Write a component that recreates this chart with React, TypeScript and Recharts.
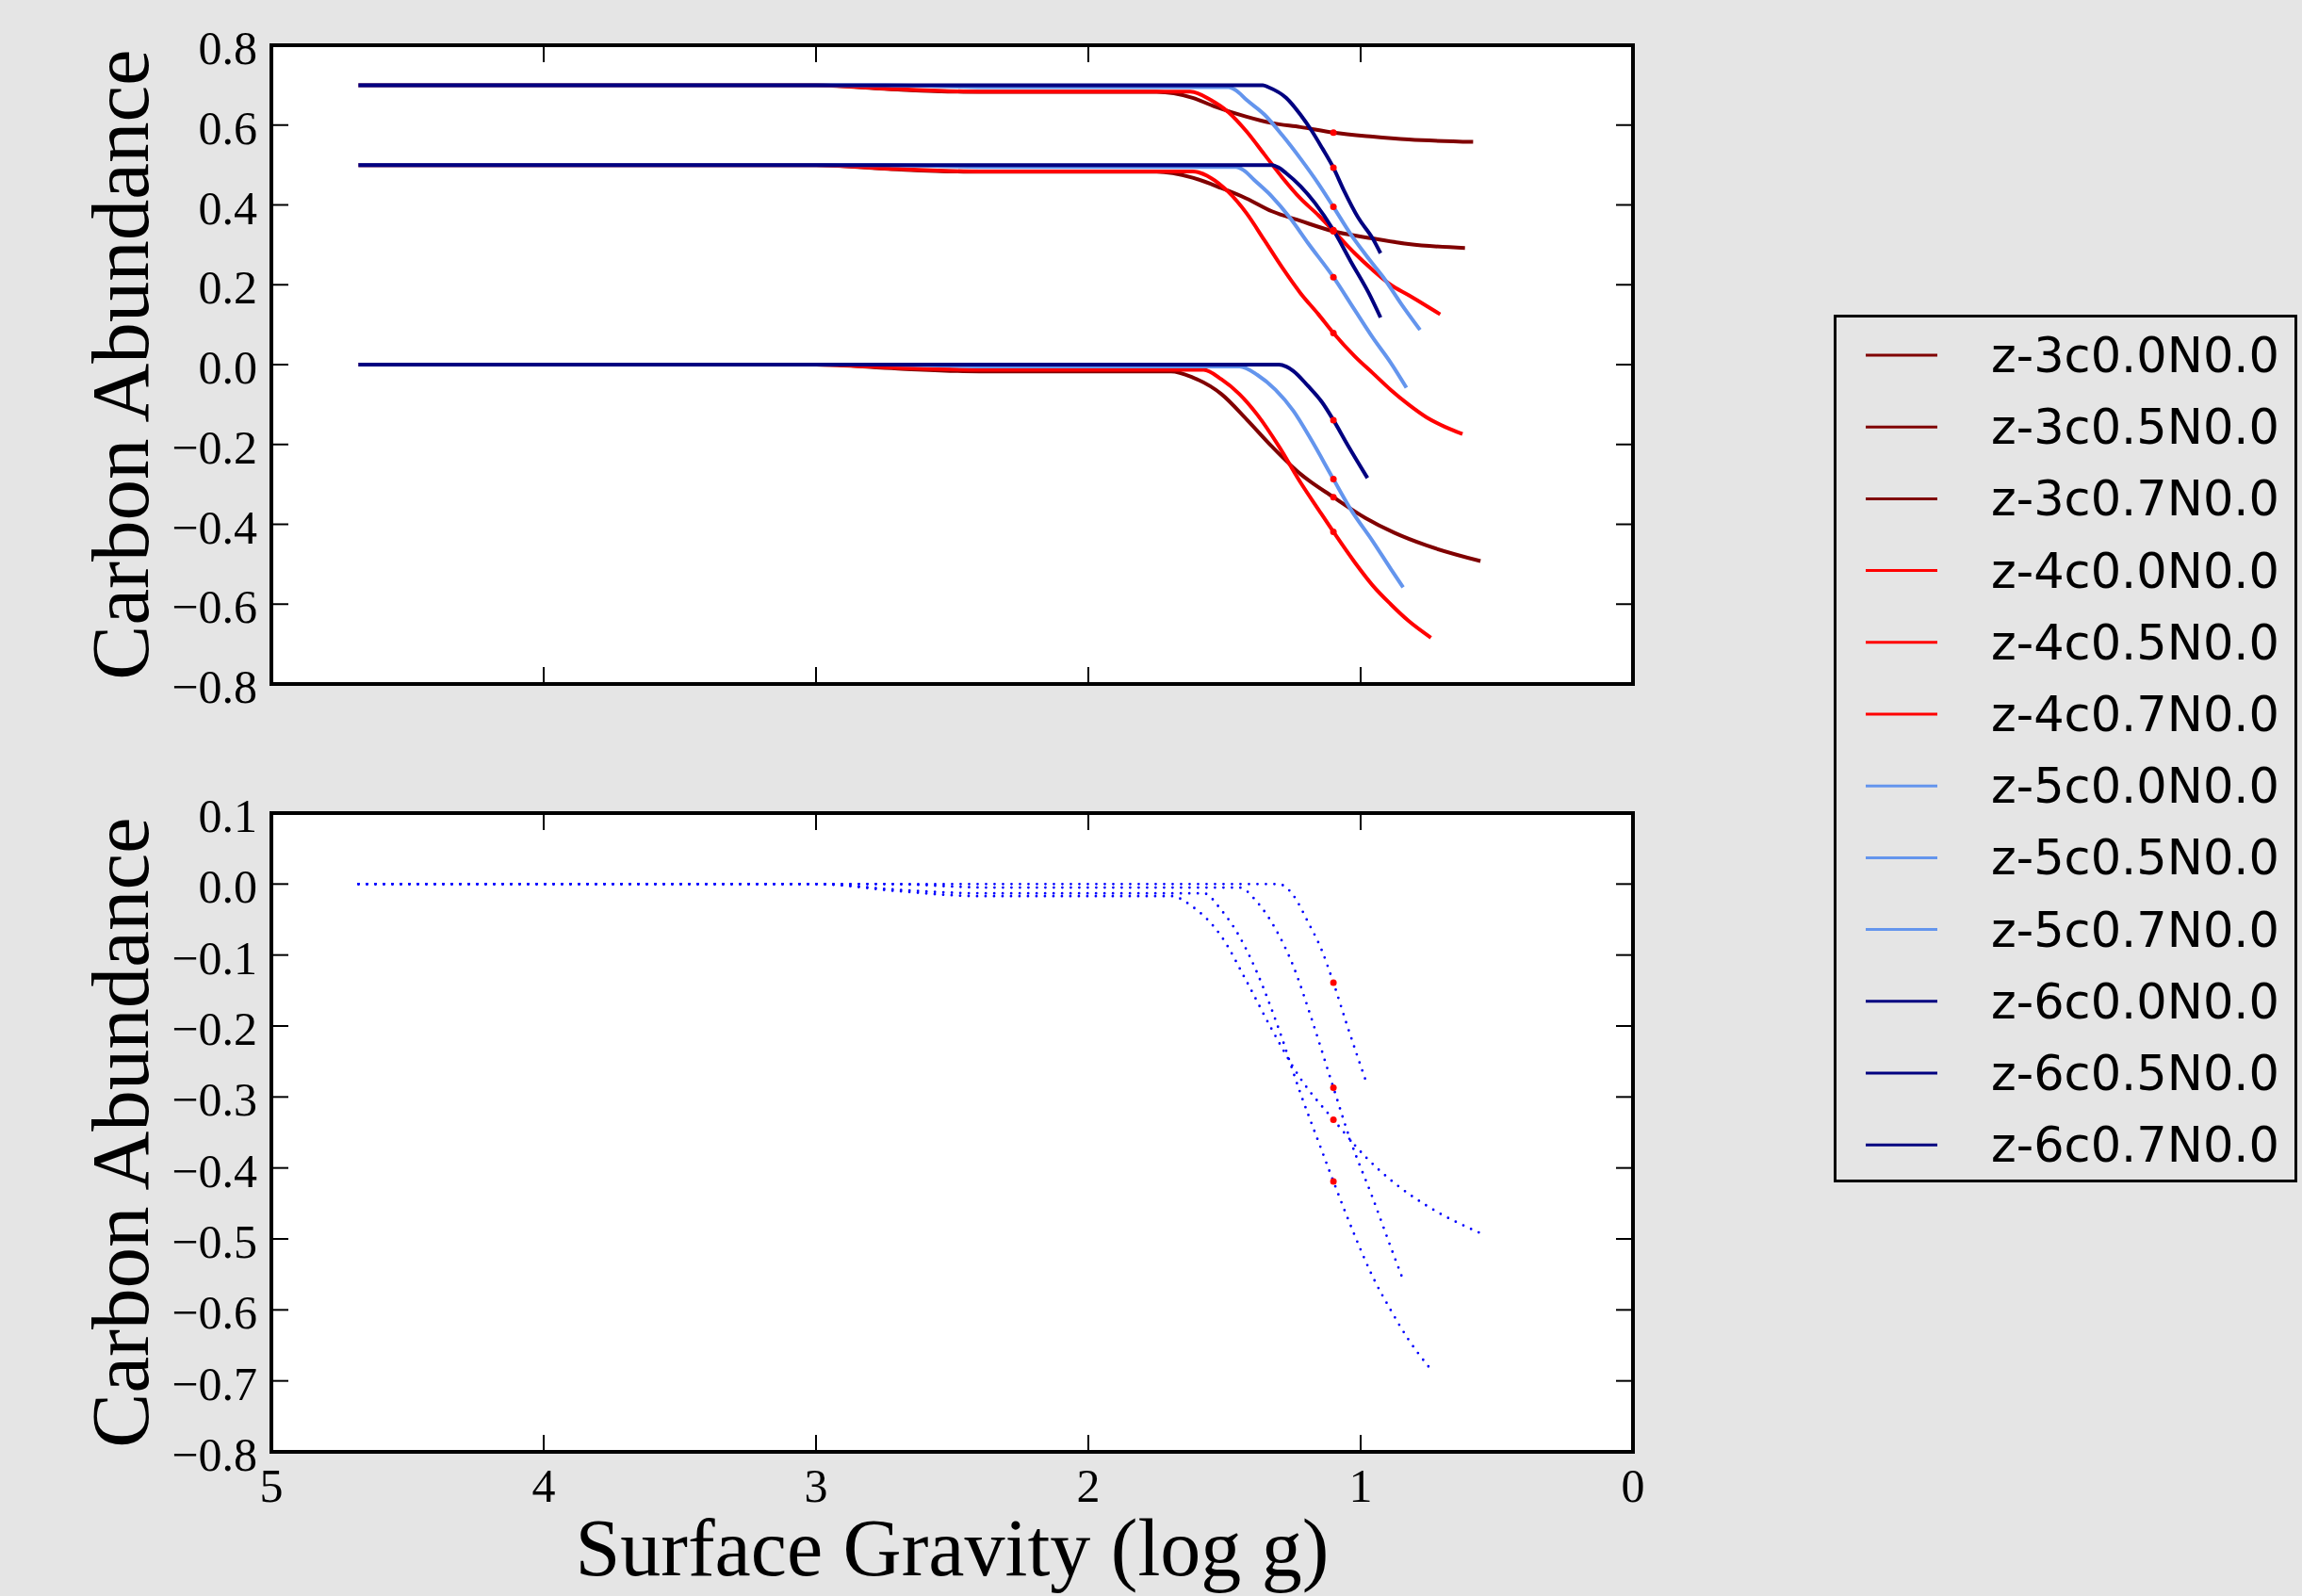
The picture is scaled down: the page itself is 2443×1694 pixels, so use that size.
import React from "react";
import {
  ComposedChart,
  Line,
  Scatter,
  XAxis,
  YAxis,
  CartesianGrid,
  Legend,
  Label,
} from "recharts";

type Pt = [number, number];

// axis ticks
const gravityTicks = [5, 4, 3, 2, 1, 0];
const topTicks = [-0.8, -0.6, -0.4, -0.2, 0, 0.2, 0.4, 0.6, 0.8];
const bottomTicks = [-0.8, -0.7, -0.6, -0.5, -0.4, -0.3, -0.2, -0.1, 0, 0.1];

// [log g, carbon abundance]
const z3c00: Pt[] = [[4.68, 0], [3.0, 0], [2.7, -0.01], [2.4, -0.017], [1.696, -0.017], [1.617, -0.032], [1.511, -0.074], [1.419, -0.137], [1.326, -0.205], [1.221, -0.274], [1.1, -0.332], [0.983, -0.384], [0.877, -0.421], [0.758, -0.453], [0.56, -0.492]];
const z3c05: Pt[] = [[4.68, 0.5], [3.0, 0.5], [2.7, 0.489], [2.4, 0.483], [1.749, 0.483], [1.617, 0.468], [1.511, 0.442], [1.419, 0.416], [1.326, 0.384], [1.221, 0.36], [1.1, 0.334], [0.956, 0.316], [0.824, 0.302], [0.617, 0.292]];
const z3c07: Pt[] = [[4.68, 0.7], [3.0, 0.7], [2.7, 0.689], [2.4, 0.683], [1.749, 0.683], [1.617, 0.668], [1.538, 0.647], [1.419, 0.621], [1.326, 0.605], [1.221, 0.595], [1.1, 0.581], [0.956, 0.571], [0.824, 0.564], [0.587, 0.558]];
const z4c00: Pt[] = [[4.68, 0], [3.0, 0], [2.7, -0.008], [2.4, -0.013], [1.577, -0.013], [1.511, -0.037], [1.445, -0.074], [1.379, -0.126], [1.3, -0.205], [1.221, -0.295], [1.155, -0.363], [1.1, -0.419], [1.022, -0.495], [0.956, -0.553], [0.89, -0.6], [0.824, -0.642], [0.742, -0.684]];
const z4c05: Pt[] = [[4.68, 0.5], [3.0, 0.5], [2.7, 0.49], [2.4, 0.484], [1.617, 0.484], [1.551, 0.468], [1.485, 0.432], [1.419, 0.379], [1.353, 0.311], [1.287, 0.242], [1.221, 0.179], [1.155, 0.126], [1.1, 0.079], [1.022, 0.021], [0.956, -0.021], [0.89, -0.063], [0.824, -0.1], [0.758, -0.132], [0.69, -0.156], [0.626, -0.174]];
const z4c07: Pt[] = [[4.68, 0.7], [3.0, 0.7], [2.7, 0.69], [2.4, 0.684], [1.626, 0.684], [1.551, 0.663], [1.485, 0.632], [1.419, 0.584], [1.353, 0.526], [1.287, 0.468], [1.221, 0.416], [1.155, 0.374], [1.1, 0.335], [1.022, 0.279], [0.956, 0.237], [0.89, 0.2], [0.824, 0.174], [0.758, 0.147], [0.708, 0.126]];
const z5c00: Pt[] = [[4.68, 0], [2.75, 0], [2.35, -0.005], [1.445, -0.005], [1.379, -0.026], [1.313, -0.063], [1.247, -0.116], [1.181, -0.189], [1.1, -0.287], [1.036, -0.363], [0.956, -0.442], [0.89, -0.511], [0.844, -0.558]];
const z5c05: Pt[] = [[4.68, 0.5], [2.75, 0.5], [2.35, 0.495], [1.458, 0.495], [1.43, 0.487], [1.392, 0.463], [1.326, 0.421], [1.26, 0.368], [1.194, 0.305], [1.1, 0.219], [1.022, 0.137], [0.956, 0.068], [0.89, 0.005], [0.832, -0.058]];
const z5c07: Pt[] = [[4.68, 0.7], [2.75, 0.7], [2.35, 0.695], [1.485, 0.695], [1.458, 0.687], [1.419, 0.663], [1.353, 0.626], [1.287, 0.574], [1.221, 0.516], [1.155, 0.453], [1.1, 0.395], [1.036, 0.326], [0.97, 0.265], [0.917, 0.219], [0.851, 0.152], [0.782, 0.087]];
const z6c00: Pt[] = [[4.68, 0], [1.3, 0], [1.273, -0.005], [1.247, -0.016], [1.194, -0.053], [1.141, -0.095], [1.1, -0.139], [1.049, -0.2], [0.975, -0.284]];
const z6c05: Pt[] = [[4.68, 0.5], [1.326, 0.5], [1.3, 0.493], [1.273, 0.479], [1.221, 0.447], [1.168, 0.405], [1.1, 0.337], [1.036, 0.258], [0.97, 0.179], [0.927, 0.118]];
const z6c07: Pt[] = [[4.68, 0.7], [1.359, 0.7], [1.339, 0.695], [1.273, 0.668], [1.221, 0.626], [1.181, 0.587], [1.141, 0.542], [1.1, 0.493], [1.062, 0.437], [1.009, 0.368], [0.956, 0.316], [0.927, 0.279]];

const seriesNames = [
  "z-3c0.0N0.0", "z-3c0.5N0.0", "z-3c0.7N0.0",
  "z-4c0.0N0.0", "z-4c0.5N0.0", "z-4c0.7N0.0",
  "z-5c0.0N0.0", "z-5c0.5N0.0", "z-5c0.7N0.0",
  "z-6c0.0N0.0", "z-6c0.5N0.0", "z-6c0.7N0.0",
];
const seriesColors = [
  "#800000", "#800000", "#800000",
  "#ff0000", "#ff0000", "#ff0000",
  "#6495ed", "#6495ed", "#6495ed",
  "#000080", "#000080", "#000080",
];
const seriesPoints = [z3c00, z3c05, z3c07, z4c00, z4c05, z4c07, z5c00, z5c05, z5c07, z6c00, z6c05, z6c07];
const lowerPoints = [z3c00, z4c00, z5c00, z6c00];

// red dots sit at log g = 1.1 on every track
const markerGravity = 1.1;

const rows = (pts: Pt[]) => pts.map(([g, v]) => ({ g, v }));
const markersOf = (list: Pt[][]) =>
  list.map((pts) => pts.find((p) => p[0] === markerGravity)!).map(([g, v]) => ({ g, v }));

const W = 2443;
const BG = "#e5e5e5";
const TICK = 18;
const serif = "'Liberation Serif', 'Times New Roman', serif";
const fmt = (v: number) => v.toFixed(1).replace("-", "\u2212");

function BottomTick(p: any) {
  const { x, y, payload, showLabel } = p;
  return (
    <g>
      <line x1={x} y1={y} x2={x} y2={y - TICK} stroke="#000" strokeWidth={2} />
      {showLabel && (
        <text x={x} y={y + 53} textAnchor="middle" fontFamily={serif} fontSize={50} fill="#000">
          {payload.value}
        </text>
      )}
    </g>
  );
}

function TopTick(p: any) {
  const { x, y } = p;
  return <line x1={x} y1={y} x2={x} y2={y + TICK} stroke="#000" strokeWidth={2} />;
}

function LeftTick(p: any) {
  const { x, y, payload } = p;
  return (
    <g>
      <line x1={x} y1={y} x2={x + TICK} y2={y} stroke="#000" strokeWidth={2} />
      <text x={x - 15} y={y + 20} textAnchor="end" fontFamily={serif} fontSize={50} fill="#000">
        {fmt(payload.value)}
      </text>
    </g>
  );
}

function RightTick(p: any) {
  const { x, y } = p;
  return <line x1={x} y1={y} x2={x - TICK} y2={y} stroke="#000" strokeWidth={2} />;
}

function YTitle(p: any) {
  const vb = p.viewBox;
  const cx = vb.x + 157;
  const cy = vb.y + vb.height / 2;
  return (
    <text x={cx} y={cy} transform={`rotate(-90, ${cx}, ${cy})`} textAnchor="middle" fontFamily={serif} fontSize={87} fill="#000">
      Carbon Abundance
    </text>
  );
}

function XTitle(p: any) {
  const vb = p.viewBox;
  return (
    <text x={vb.x + vb.width / 2} y={vb.y + 131} textAnchor="middle" fontFamily={serif} fontSize={86} fill="#000">
      Surface Gravity (log g)
    </text>
  );
}

function LegendBox(p: any) {
  const items = (p.payload || []).filter((it: any) => it.type !== "none" && seriesNames.includes(it.value));
  return (
    <svg width={492} height={921} style={{ display: "block" }}>
      <rect x={1.5} y={1.5} width={489} height={918} fill={BG} stroke="#000" strokeWidth={3} />
      {items.map((it: any, i: number) => {
        const cy = 43 + i * 76.2;
        return (
          <g key={it.value}>
            <line x1={34} x2={110} y1={cy} y2={cy} stroke={it.color} strokeWidth={3} />
            <text x={167} y={cy + 18} fontFamily="'DejaVu Sans', sans-serif" fontSize={51} fill="#000">
              {it.value}
            </text>
          </g>
        );
      })}
    </svg>
  );
}

const redDot = (p: any) => <circle cx={p.cx} cy={p.cy} r={3.5} fill="#ff0000" />;

const frame = { stroke: "#000", strokeWidth: 4, strokeLinecap: "square" as const };

// frame axes: bottom/left carry labels, top/right only inward ticks
function frameAxes(yTicks: number[], yDomain: [number, number], xLabels: boolean) {
  return [
    <XAxis key="xb" type="number" dataKey="g" domain={[0, 5]} reversed allowDataOverflow ticks={gravityTicks} interval={0}
      height={1} tickSize={0} tickMargin={0} tickLine={false} axisLine={frame}
      tick={(p: any) => <BottomTick {...p} showLabel={xLabels} />}>
      {xLabels && <Label content={XTitle} />}
    </XAxis>,
    <XAxis key="xt" xAxisId="top" orientation="top" type="number" dataKey="g" domain={[0, 5]} reversed allowDataOverflow
      ticks={gravityTicks} interval={0} height={1} tickSize={0} tickMargin={0} tickLine={false} axisLine={frame}
      tick={(p: any) => <TopTick {...p} />} />,
    <YAxis key="yl" type="number" dataKey="v" domain={yDomain} allowDataOverflow ticks={yTicks} interval={0}
      width={288} tickSize={0} tickMargin={0} tickLine={false} axisLine={frame}
      tick={(p: any) => <LeftTick {...p} />}>
      <Label content={YTitle} />
    </YAxis>,
    <YAxis key="yr" yAxisId="right" orientation="right" type="number" dataKey="v" domain={yDomain} allowDataOverflow
      ticks={yTicks} interval={0} width={1} tickSize={0} tickMargin={0} tickLine={false} axisLine={frame}
      tick={(p: any) => <RightTick {...p} />} />,
  ];
}

export default function App() {
  return (
    <div style={{ position: "absolute", left: 0, top: 0, width: W, height: 1694, background: BG, overflow: "hidden" }}>
      <div style={{ position: "absolute", left: 0, top: 0 }}>
        <ComposedChart width={W} height={800} margin={{ top: 47, right: 709, bottom: 73, left: 0 }}>
          <CartesianGrid fill="#fff" horizontal={false} vertical={false} />
          {seriesPoints.map((pts, i) => (
            <Line key={seriesNames[i]} name={seriesNames[i]} data={rows(pts)} dataKey="v" type="monotone"
              stroke={seriesColors[i]} strokeWidth={4} dot={false} isAnimationActive={false} />
          ))}
          <Scatter name="marker" data={markersOf(seriesPoints)} dataKey="v" shape={redDot} legendType="none" isAnimationActive={false} />
          {frameAxes(topTicks, [-0.8, 0.8], false)}
          <Legend layout="vertical" align="center" verticalAlign="middle" width={492} height={921}
            wrapperStyle={{ left: 1946, top: 334, width: 492, height: 921 }} content={LegendBox} />
        </ComposedChart>
      </div>
      <div style={{ position: "absolute", left: 0, top: 800 }}>
        <ComposedChart width={W} height={894} margin={{ top: 62, right: 709, bottom: 152, left: 0 }}>
          <CartesianGrid fill="#fff" horizontal={false} vertical={false} />
          {lowerPoints.map((pts, i) => (
            <Line key={i} data={rows(pts)} dataKey="v" type="monotone" stroke="#0000ff" strokeWidth={2.8}
              strokeDasharray="0 9" strokeLinecap="round" dot={false} legendType="none" isAnimationActive={false} />
          ))}
          <Scatter data={markersOf(lowerPoints)} dataKey="v" shape={redDot} legendType="none" isAnimationActive={false} />
          {frameAxes(bottomTicks, [-0.8, 0.1], true)}
        </ComposedChart>
      </div>
    </div>
  );
}
